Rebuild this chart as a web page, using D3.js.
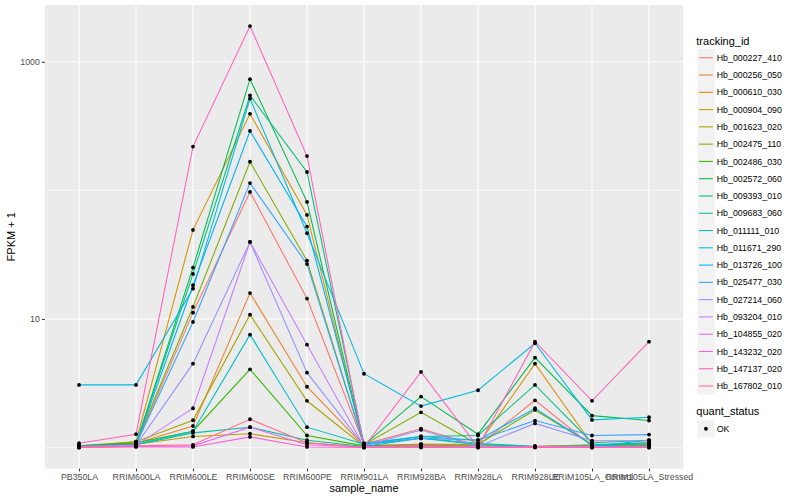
<!DOCTYPE html>
<html><head><meta charset="utf-8">
<script src="https://cdn.jsdelivr.net/npm/d3@7/dist/d3.min.js"></script>
<style>body{margin:0;background:#fff} text{font-family:"Liberation Sans",Arial,Helvetica,sans-serif}</style>
</head><body><svg id="c" width="800" height="500"></svg>
<script>
// ---- data ----
const samples = ["PB350LA","RRIM600LA","RRIM600LE","RRIM600SE","RRIM600PE","RRIM901LA","RRIM928BA","RRIM928LA","RRIM928LE","RRIM105LA_Control","RRIM105LA_Stressed"];
const trackingIds = ["Hb_000227_410","Hb_000256_050","Hb_000610_030","Hb_000904_090","Hb_001623_020","Hb_002475_110","Hb_002486_030","Hb_002572_060","Hb_009393_010","Hb_009683_060","Hb_011111_010","Hb_011671_290","Hb_013726_100","Hb_025477_030","Hb_027214_060","Hb_093204_010","Hb_104855_020","Hb_143232_020","Hb_147137_020","Hb_167802_010"];
const seriesColors = ["#F8766D","#EA8331","#D89000","#C09B00","#A3A500","#7CAE00","#39B600","#00BB4E","#00BF7D","#00C1A3","#00BFC4","#00BAE0","#00B0F6","#35A2FF","#9590FF","#C77CFF","#E76BF3","#FA62DB","#FF62BC","#FF6C91"];
// FPKM + 1 per sample, in sample order
const hb000227 = [1.03,1.05,11.2,97.3,14.4,1.06,1.40,1.03,2.33,1.03,1.03];
const hb000256 = [1.02,1.08,1.47,15.9,2.97,1.03,1.06,1.06,1.02,1.04,1.05];
const hb000610 = [1.03,1.11,49.3,394,64.5,1.03,1.06,1.05,4.49,1.06,1.06];
const hb000904 = [1.01,1.06,1.22,1.28,1.09,1.01,1.02,1.02,1.02,1.03,1.09];
const hb001623 = [1.02,1.11,1.63,10.8,2.31,1.02,1.05,1.02,1.02,1.05,1.06];
const hb002475 = [1.03,1.08,12.4,167,28.4,1.05,1.88,1.06,1.96,1.05,1.06];
const hb002486 = [1.03,1.09,1.34,4.06,1.24,1.03,1.03,1.03,1.02,1.02,1.03];
const hb002572 = [1.03,1.06,25.1,733,81.4,1.05,2.49,1.27,5.0,1.77,1.62];
const hb009393 = [1.02,1.06,22.4,547,139,1.06,1.22,1.24,3.07,1.09,1.14];
const hb009683 = [1.02,1.05,1.30,1.44,1.14,1.02,1.18,1.05,1.02,1.02,1.14];
const hb011111 = [1.02,1.06,1.34,7.55,1.44,1.06,1.18,1.08,1.02,1.03,1.04];
const hb011671 = [3.07,3.07,17.2,518,46.4,3.75,2.10,2.79,6.47,1.64,1.72];
const hb013726 = [1.02,1.05,18.3,290,52.3,1.08,1.22,1.14,2.02,1.05,1.09];
const hb025477 = [1.02,1.05,9.48,114,26.7,1.05,1.18,1.14,1.62,1.24,1.26];
const hb027214 = [1.02,1.04,4.49,39.7,3.82,1.03,1.37,1.02,1.54,1.13,1.13];
const hb093204 = [1.01,1.04,2.02,39.7,6.31,1.02,1.03,1.02,1.02,1.02,1.02];
const hb104855 = [1.00,1.02,1.03,1.44,1.05,1.01,1.01,1.01,1.01,1.01,1.01];
const hb143232 = [1.00,1.01,1.01,1.21,1.01,1.00,1.00,1.00,1.00,1.00,1.00];
const hb147137 = [1.08,1.27,219,1897,185,1.01,3.87,1.01,6.66,2.31,6.66];
const hb167802 = [1.01,1.03,1.05,1.66,1.09,1.00,1.01,1.00,1.01,1.00,1.00];
const yTickValues = [10, 1000];
const yMinorValues = [1, 100];
const quantStatus = ["OK"];

const seriesValues = [hb000227,hb000256,hb000610,hb000904,hb001623,hb002475,hb002486,hb002572,hb009393,hb009683,hb011111,hb011671,hb013726,hb025477,hb027214,hb093204,hb104855,hb143232,hb147137,hb167802];
const series = trackingIds.map((id,i)=>({id, color: seriesColors[i], values: seriesValues[i].map((v,j)=>({s: samples[j], v}))}));

// ---- layout ----
const svg = d3.select("#c");
const P = {left: 44.8, right: 683.2, top: 5, bottom: 468.6};
const allV = seriesValues.flat();
const lmin = Math.log10(d3.min(allV)), lmax = Math.log10(d3.max(allV));
const ex = (lmax - lmin) * 0.05;
const y = d3.scaleLog().domain([Math.pow(10, lmin-ex), Math.pow(10, lmax+ex)]).range([P.bottom, P.top]);
const x = d3.scalePoint().domain(samples).range([P.left, P.right]).padding(0.6);

svg.append("rect").attr("x",0).attr("y",0).attr("width",800).attr("height",500).attr("fill","#fff");
svg.append("rect").attr("x",P.left).attr("y",P.top).attr("width",P.right-P.left).attr("height",P.bottom-P.top).attr("fill","#EBEBEB");

const grid = svg.append("g");
grid.selectAll(".ymin").data(yMinorValues).join("line")
  .attr("x1",P.left).attr("x2",P.right).attr("y1",d=>y(d)).attr("y2",d=>y(d))
  .attr("stroke","#fff").attr("stroke-width",0.55);
grid.selectAll(".ymaj").data(yTickValues).join("line")
  .attr("x1",P.left).attr("x2",P.right).attr("y1",d=>y(d)).attr("y2",d=>y(d))
  .attr("stroke","#fff").attr("stroke-width",1.1);
grid.selectAll(".xmaj").data(samples).join("line")
  .attr("x1",d=>x(d)).attr("x2",d=>x(d)).attr("y1",P.top).attr("y2",P.bottom)
  .attr("stroke","#fff").attr("stroke-width",1.1);

// lines
const line = d3.line().x(d=>x(d.s)).y(d=>y(d.v));
svg.append("g").selectAll("path").data(series).join("path")
  .attr("d",d=>line(d.values)).attr("fill","none").attr("stroke",d=>d.color).attr("stroke-width",1.07);
// points
svg.append("g").selectAll("g").data(series).join("g").selectAll("circle").data(d=>d.values).join("circle")
  .attr("cx",d=>x(d.s)).attr("cy",d=>y(d.v)).attr("r",1.9).attr("fill","#000");

// axes
const yAxis = d3.axisLeft(y).tickValues(yTickValues).tickFormat(d3.format("d")).tickSize(2.75).tickPadding(2.2);
const gy = svg.append("g").attr("transform",`translate(${P.left},0)`).call(yAxis);
gy.select(".domain").remove();
gy.selectAll(".tick line").attr("stroke","#333").attr("stroke-width",1.07);
gy.selectAll(".tick text").attr("fill","#4D4D4D").attr("font-size","8.8px").attr("font-family","Liberation Sans, Arial, sans-serif");

const xAxis = d3.axisBottom(x).tickSize(2.75).tickPadding(2.2);
const gx = svg.append("g").attr("transform",`translate(0,${P.bottom})`).call(xAxis);
gx.select(".domain").remove();
gx.selectAll(".tick line").attr("stroke","#333").attr("stroke-width",1.07);
gx.selectAll(".tick text").attr("fill","#4D4D4D").attr("font-size","8.8px").attr("font-family","Liberation Sans, Arial, sans-serif");

svg.append("text").attr("x",(P.left+P.right)/2).attr("y",492).attr("text-anchor","middle")
  .attr("font-size","11px").attr("fill","#000").text("sample_name");
svg.append("text").attr("transform",`translate(15,${(P.top+P.bottom)/2}) rotate(-90)`).attr("text-anchor","middle")
  .attr("font-size","11px").attr("fill","#000").text("FPKM + 1");

// legend: tracking_id
const L = svg.append("g");
const lx = 697.3, ly0 = 49.1, kh = 17.28;
L.append("text").attr("x",lx-1).attr("y",44.5).attr("font-size","11px").text("tracking_id");
const items = L.selectAll(".it").data(series).join("g").attr("transform",(d,i)=>`translate(${lx},${ly0+i*kh})`);
items.append("rect").attr("width",kh).attr("height",kh).attr("fill","#F2F2F2");
items.append("line").attr("x1",1.7).attr("x2",kh-1.7).attr("y1",kh/2).attr("y2",kh/2).attr("stroke",d=>d.color).attr("stroke-width",1.07);
items.append("text").attr("x",kh+2.2).attr("y",kh/2+3.1).attr("font-size","8.8px").text(d=>d.id);

// legend: quant_status
const q0 = 402.5;
L.append("text").attr("x",lx-1).attr("y",q0+12.5).attr("font-size","11px").text("quant_status");
const qi = L.selectAll(".q").data(quantStatus).join("g").attr("transform",(d,i)=>`translate(${lx},${q0+17.6+i*kh})`);
qi.append("rect").attr("width",kh).attr("height",kh).attr("fill","#F2F2F2");
qi.append("circle").attr("cx",kh/2).attr("cy",kh/2).attr("r",1.9).attr("fill","#000");
qi.append("text").attr("x",kh+2.2).attr("y",kh/2+3.1).attr("font-size","8.8px").text(d=>d);
</script></body></html>
